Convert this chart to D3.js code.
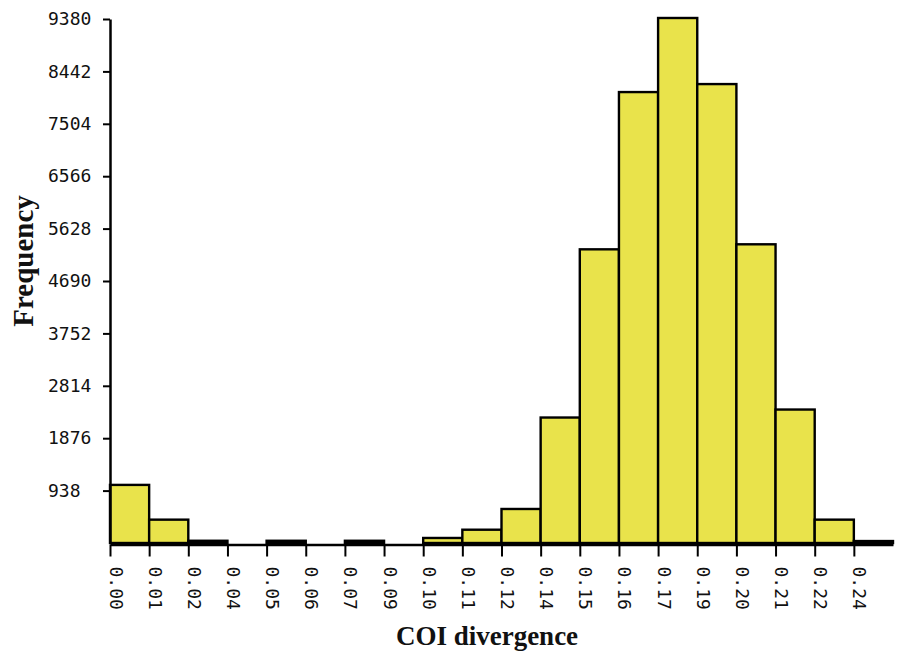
<!DOCTYPE html>
<html>
<head>
<meta charset="utf-8">
<script src="https://cdn.jsdelivr.net/npm/d3@7"></script>
<style>
  html, body { margin: 0; padding: 0; background: #fff; }
  svg { display: block; }
</style>
</head>
<body>
<svg id="chart" width="901" height="652"></svg>
<script>
// ---- data ----
const binLabels = ["0.00","0.01","0.02","0.04","0.05","0.06","0.07","0.09","0.10","0.11",
                   "0.12","0.14","0.15","0.16","0.17","0.19","0.20","0.21","0.22","0.24"];
const frequencies = [1040, 418, 40, 0, 40, 0, 40, 0, 90, 238,
                     609, 2246, 5257, 8072, 9398, 8215, 5347, 2389, 418, 35];
const yTickValues = [938, 1876, 2814, 3752, 4690, 5628, 6566, 7504, 8442, 9380];
const xTitle = "COI divergence";
const yTitle = "Frequency";

// ---- layout ----
const svg = d3.select("#chart");
const x = d3.scaleLinear().domain([0, binLabels.length]).range([110, 893]);
const y = d3.scaleLinear().domain([0, 9380]).range([543, 19]);

// bars
svg.append("g")
  .selectAll("rect")
  .data(frequencies)
  .join("rect")
  .attr("x", (d, i) => x(i))
  .attr("width", (d, i) => x(i + 1) - x(i))
  .attr("y", d => y(d))
  .attr("height", d => y(0) - y(d))
  .attr("fill", "#e9e34b")
  .attr("stroke", "#000")
  .attr("stroke-width", 2.4);

// x axis
const xAxis = d3.axisBottom(x)
  .tickValues(d3.range(binLabels.length))
  .tickFormat(i => binLabels[i])
  .tickSize(12)
  .tickSizeOuter(0);
const gx = svg.append("g")
  .attr("transform", `translate(0,${y(0) + 1.5})`)
  .call(xAxis);
gx.select(".domain").attr("stroke", "#000").attr("stroke-width", 2.5);
gx.selectAll(".tick line").attr("stroke", "#000").attr("stroke-width", 2);
gx.selectAll(".tick text")
  .attr("font-family", "DejaVu Sans Mono, monospace")
  .attr("font-size", 18)
  .attr("fill", "#111")
  .attr("text-anchor", "start")
  .attr("dy", null)
  .attr("y", 0)
  .attr("x", 0)
  .attr("transform", "translate(-1,22) rotate(90)");

// y axis
const yAxis = d3.axisLeft(y)
  .tickValues(yTickValues)
  .tickFormat(d3.format("d"))
  .tickSize(7)
  .tickSizeOuter(0);
const gy = svg.append("g")
  .attr("transform", `translate(110,0)`)
  .call(yAxis);
gy.select(".domain").attr("stroke", "#000").attr("stroke-width", 2.5);
gy.selectAll(".tick line").attr("stroke", "#000").attr("stroke-width", 2);
gy.selectAll(".tick text")
  .attr("font-family", "DejaVu Sans Mono, monospace")
  .attr("font-size", 18)
  .attr("fill", "#111")
  .attr("text-anchor", "start")
  .attr("x", -62);

// titles
svg.append("text")
  .attr("x", 487)
  .attr("y", 645)
  .attr("text-anchor", "middle")
  .attr("font-family", "Liberation Serif, Times New Roman, serif")
  .attr("font-weight", "bold")
  .attr("font-size", 27)
  .attr("fill", "#111")
  .text(xTitle);

svg.append("text")
  .attr("transform", "translate(33,261) rotate(-90)")
  .attr("text-anchor", "middle")
  .attr("font-family", "Liberation Serif, Times New Roman, serif")
  .attr("font-weight", "bold")
  .attr("font-size", 29)
  .attr("fill", "#111")
  .text(yTitle);
</script>
</body>
</html>
